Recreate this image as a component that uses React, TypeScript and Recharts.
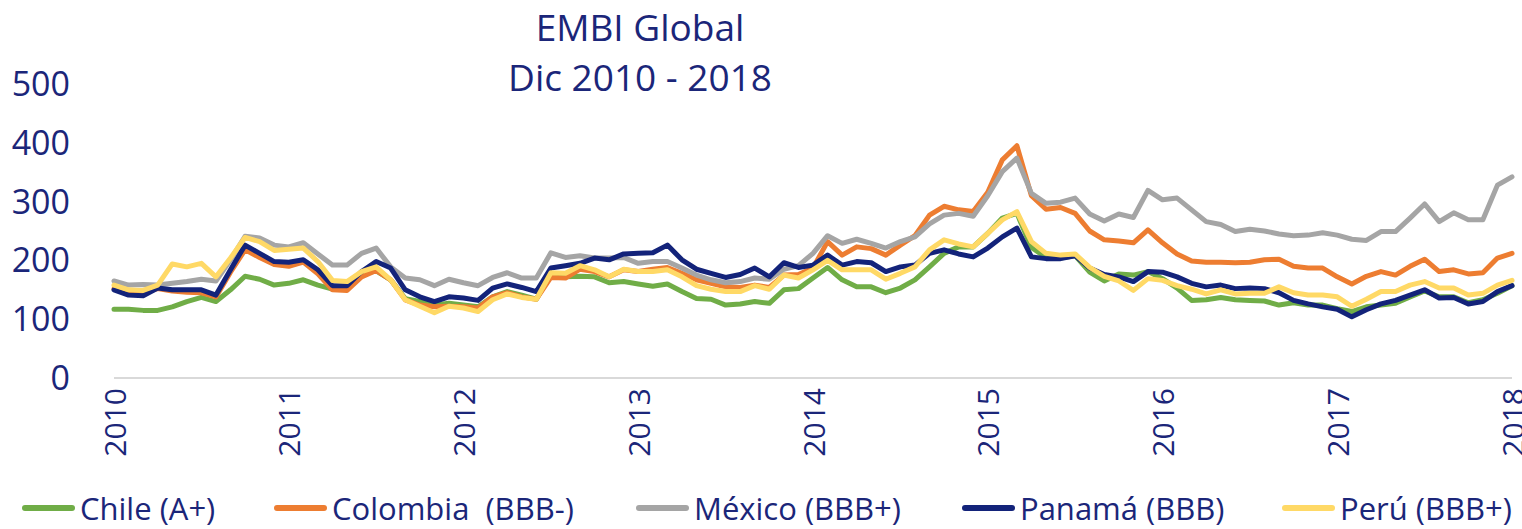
import React from 'react';
import { LineChart, Line, XAxis, YAxis } from 'recharts';

// monthly EMBI spreads, Dic 2010 - Dic 2018 (bps)
const yearLabels = ['2010', '2011', '2012', '2013', '2014', '2015', '2016', '2017', '2018'];
const yTicks = [0, 100, 200, 300, 400, 500];

const chile = [
  117, 117, 115, 115, 121, 130, 137, 130, 150, 173, 168, 158, 161, 167, 158, 151,
  154, 177, 182, 167, 135, 130, 124, 127, 124, 121, 138, 147, 141, 134, 177, 172,
  173, 172, 162, 164, 160, 156, 160, 147, 135, 134, 124, 126, 130, 127, 150, 152,
  170, 188, 167, 155, 155, 145, 153, 167, 189, 212, 223, 223, 246, 272, 280, 222,
  205, 204, 208, 180, 165, 177, 175, 181, 169, 153, 132, 133, 137, 133, 132, 131,
  124, 128, 124, 124, 118, 113, 121, 124, 127, 138, 148, 138, 138, 128, 133, 144, 157,
];
const colombia = [
  152, 145, 145, 152, 148, 146, 145, 138, 180, 218, 205, 193, 190, 197, 177, 150,
  149, 172, 183, 167, 133, 124, 121, 122, 121, 119, 138, 145, 138, 134, 171, 170,
  185, 181, 172, 184, 181, 185, 188, 178, 167, 161, 155, 154, 158, 154, 175, 176,
  187, 232, 209, 223, 220, 209, 226, 242, 277, 292, 286, 283, 316, 371, 395, 310,
  287, 290, 280, 250, 235, 233, 230, 252, 230, 211, 199, 197, 197, 196, 197, 201,
  202, 190, 187, 187, 172, 160, 173, 181, 175, 190, 202, 181, 184, 177, 179, 204, 212,
];
const mexico = [
  165, 158, 159, 158, 161, 164, 168, 165, 201, 241, 238, 226, 223, 230, 211, 192,
  192, 212, 221, 189, 170, 167, 157, 168, 162, 157, 171, 179, 170, 170, 213, 205,
  208, 204, 204, 205, 195, 198, 198, 187, 175, 167, 162, 164, 170, 168, 185, 191,
  212, 242, 229, 236, 229, 221, 232, 240, 262, 277, 280, 275, 310, 351, 374, 314,
  297, 299, 306, 279, 267, 279, 273, 319, 303, 306, 286, 266, 261, 249, 253, 250,
  245, 242, 243, 247, 243, 236, 234, 249, 249, 272, 296, 266, 281, 269, 269, 328, 342,
];
const panama = [
  150, 141, 140, 153, 150, 150, 150, 141, 184, 226, 212, 198, 197, 201, 184, 157,
  157, 181, 198, 187, 150, 138, 130, 138, 136, 132, 153, 160, 154, 147, 187, 191,
  195, 204, 201, 211, 212, 213, 226, 201, 185, 178, 171, 176, 187, 172, 196, 188,
  192, 209, 192, 198, 196, 181, 189, 192, 212, 218, 211, 206, 221, 240, 255, 206,
  203, 203, 208, 187, 176, 172, 164, 181, 180, 172, 161, 155, 158, 152, 153, 152,
  145, 132, 126, 121, 117, 104, 116, 126, 132, 141, 150, 136, 137, 126, 130, 147, 157,
];
const peru = [
  158, 150, 149, 158, 194, 189, 195, 172, 204, 239, 232, 217, 219, 221, 198, 166,
  164, 181, 189, 167, 133, 122, 111, 122, 119, 113, 133, 143, 137, 134, 179, 178,
  191, 184, 172, 185, 181, 181, 184, 172, 157, 151, 147, 147, 157, 151, 175, 170,
  184, 200, 184, 184, 184, 168, 178, 189, 218, 235, 228, 223, 246, 269, 283, 232,
  212, 209, 211, 188, 173, 165, 149, 169, 166, 157, 151, 143, 150, 143, 144, 144,
  155, 145, 141, 141, 138, 122, 134, 147, 147, 158, 164, 153, 153, 141, 144, 158, 166,
];

const series = [
  { key: 'chile', name: 'Chile (A+)', color: '#70AD47', values: chile },
  { key: 'colombia', name: 'Colombia  (BBB-)', color: '#ED7D31', values: colombia },
  { key: 'mexico', name: 'México (BBB+)', color: '#A5A5A5', values: mexico },
  { key: 'panama', name: 'Panamá (BBB)', color: '#13237A', values: panama },
  { key: 'peru', name: 'Perú (BBB+)', color: '#FFD966', values: peru },
];
// legend item left edges
const legendLeft = [22, 274, 636, 962, 1282];

const data = chile.map((_, i) => {
  const row: Record<string, number> = { t: i };
  series.forEach((s) => {
    row[s.key] = s.values[i];
  });
  return row;
});

const yearTicks = yearLabels.map((_, i) => i * 12);
const TEXT = '#1B2679';
const FONT = '"Open Sans", sans-serif';

const YearTick = (props: any) => {
  const { x, y, payload } = props;
  const label = yearLabels[Math.round(payload.value / 12)];
  return (
    <text
      x={x}
      y={y + 2}
      transform={`rotate(-90, ${x}, ${y + 2})`}
      textAnchor="end"
      dominantBaseline="central"
      fill={TEXT}
      fontSize={30}
      fontFamily={FONT}
    >
      {label}
    </text>
  );
};

export default function App() {
  return (
    <div style={{ position: 'absolute', left: 0, top: 0, width: 1522, height: 529, background: '#fff', overflow: 'hidden', fontFamily: FONT }}>
      <div style={{ position: 'absolute', left: 390, width: 500, top: 4, textAlign: 'center', color: TEXT, fontSize: 37, lineHeight: '46px' }}>
        EMBI Global
      </div>
      <div style={{ position: 'absolute', left: 390, width: 500, top: 54, textAlign: 'center', color: TEXT, fontSize: 37, lineHeight: '46px' }}>
        Dic 2010 - 2018
      </div>
      <div style={{ position: 'absolute', left: 0, top: 0 }}>
        <LineChart width={1522} height={529} data={data} margin={{ top: 84, right: 10, bottom: 71, left: 0 }}>
          <XAxis
            dataKey="t"
            type="number"
            domain={[0, 96]}
            ticks={yearTicks}
            interval={0}
            tick={<YearTick />}
            tickLine={false}
            axisLine={{ stroke: '#D9D9D9', strokeWidth: 2 }}
            height={80}
          />
          <YAxis
            domain={[0, 500]}
            ticks={yTicks}
            interval={0}
            width={114}
            axisLine={false}
            tickLine={false}
            tickSize={0}
            tickMargin={44}
            tick={{ fill: TEXT, fontSize: 34, fontFamily: FONT }}
          />
          {series.map((s) => (
            <Line
              key={s.key}
              dataKey={s.key}
              name={s.name}
              stroke={s.color}
              strokeWidth={5}
              dot={false}
              strokeLinejoin="round"
              strokeLinecap="round"
              isAnimationActive={false}
            />
          ))}
        </LineChart>
      </div>
      {series.map((s, i) => (
        <div
          key={s.key}
          style={{ position: 'absolute', left: legendLeft[i], top: 486, height: 44, display: 'flex', alignItems: 'center', whiteSpace: 'pre' }}
        >
          <div style={{ width: 53, height: 6, borderRadius: 3, background: s.color, marginRight: 5 }} />
          <span style={{ color: TEXT, fontSize: 31 }}>{s.name}</span>
        </div>
      ))}
    </div>
  );
}
